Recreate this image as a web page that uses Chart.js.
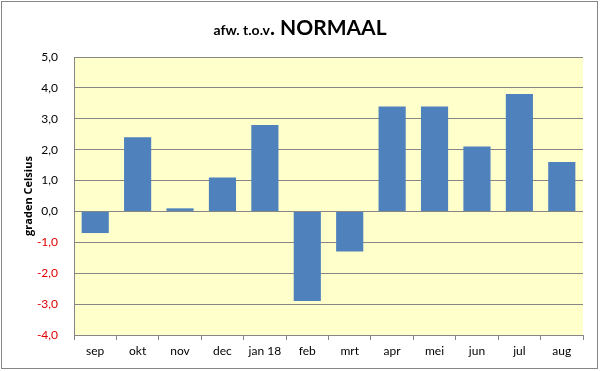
<!DOCTYPE html>
<html>
<head>
<meta charset="utf-8">
<script src="https://cdn.jsdelivr.net/npm/chart.js@4"></script>
<style>
  body { margin: 0; background: #fff; }
  #wrap { position: relative; width: 600px; height: 371px; }
  #title {
    position: absolute; left: 0; top: 14px; width: 600px; text-align: center;
    font-family: Lato, "Open Sans", sans-serif; font-weight: bold; color: #000;
  }
  #title .small { font-size: 14px; }
  #title .big { font-size: 21px; }
</style>
</head>
<body>
<div id="wrap">
  <canvas id="chart" width="600" height="371"></canvas>
  <div id="title"><span class="small">afw. t.o.v</span><span class="big">. NORMAAL</span></div>
</div>
<script>
// ============================
// Data
// ============================
const months = ["sep", "okt", "nov", "dec", "jan 18", "feb", "mrt", "apr", "mei", "jun", "jul", "aug"];
const deviation = [-0.7, 2.4, 0.1, 1.1, 2.8, -2.9, -1.3, 3.4, 3.4, 2.1, 3.8, 1.6];
const yMin = -4;
const yMax = 5;

// ============================
// Plot area background + outer frame
// ============================
const backgroundPlugin = {
  id: "background",
  beforeDraw(chart) {
    const { ctx, chartArea } = chart;
    ctx.save();
    ctx.fillStyle = "#ffffcc";
    ctx.fillRect(chartArea.left, chartArea.top, chartArea.right - chartArea.left, chartArea.bottom - chartArea.top);
    ctx.strokeStyle = "#868686";
    ctx.lineWidth = 1;
    ctx.strokeRect(1.5, 1.5, 596, 367);
    ctx.restore();
  },
};

const ctx = document.getElementById("chart").getContext("2d");
new Chart(ctx, {
  type: "bar",
  data: {
    labels: months,
    datasets: [
      {
        data: deviation,
        backgroundColor: "#4f81bd",
        barPercentage: 0.64,
        categoryPercentage: 1,
      },
    ],
  },
  options: {
    responsive: false,
    animation: false,
    layout: { padding: { top: 57, right: 17, left: 0, bottom: 0 } },
    plugins: {
      legend: { display: false },
      tooltip: { enabled: false },
    },
    scales: {
      x: {
        grid: {
          offset: true,
          drawOnChartArea: false,
          tickLength: 5,
          color: "#868686",
        },
        border: { color: "#868686" },
        ticks: {
          color: "#000",
          padding: 4,
          font: { family: "Lato, 'Open Sans', sans-serif", size: 12 },
        },
        afterFit(scale) {
          scale.height = 36;
        },
      },
      y: {
        min: yMin,
        max: yMax,
        ticks: {
          stepSize: 1,
          padding: 16,
          font: { family: "Lato, 'Open Sans', sans-serif", size: 12 },
          color: (c) => (c.tick.value < 0 ? "#e00000" : "#000"),
          callback: (v) => v.toFixed(1).replace(".", ","),
        },
        grid: { color: "#868686", drawTicks: false },
        border: { color: "#868686" },
        title: {
          display: true,
          text: "graden Celsius",
          color: "#000",
          padding: { top: 22, bottom: 0 },
          font: { family: "'Open Sans', sans-serif", size: 11, weight: "bold" },
        },
        afterFit(scale) {
          scale.width = 74;
        },
      },
    },
  },
  plugins: [backgroundPlugin],
});
</script>
</body>
</html>
